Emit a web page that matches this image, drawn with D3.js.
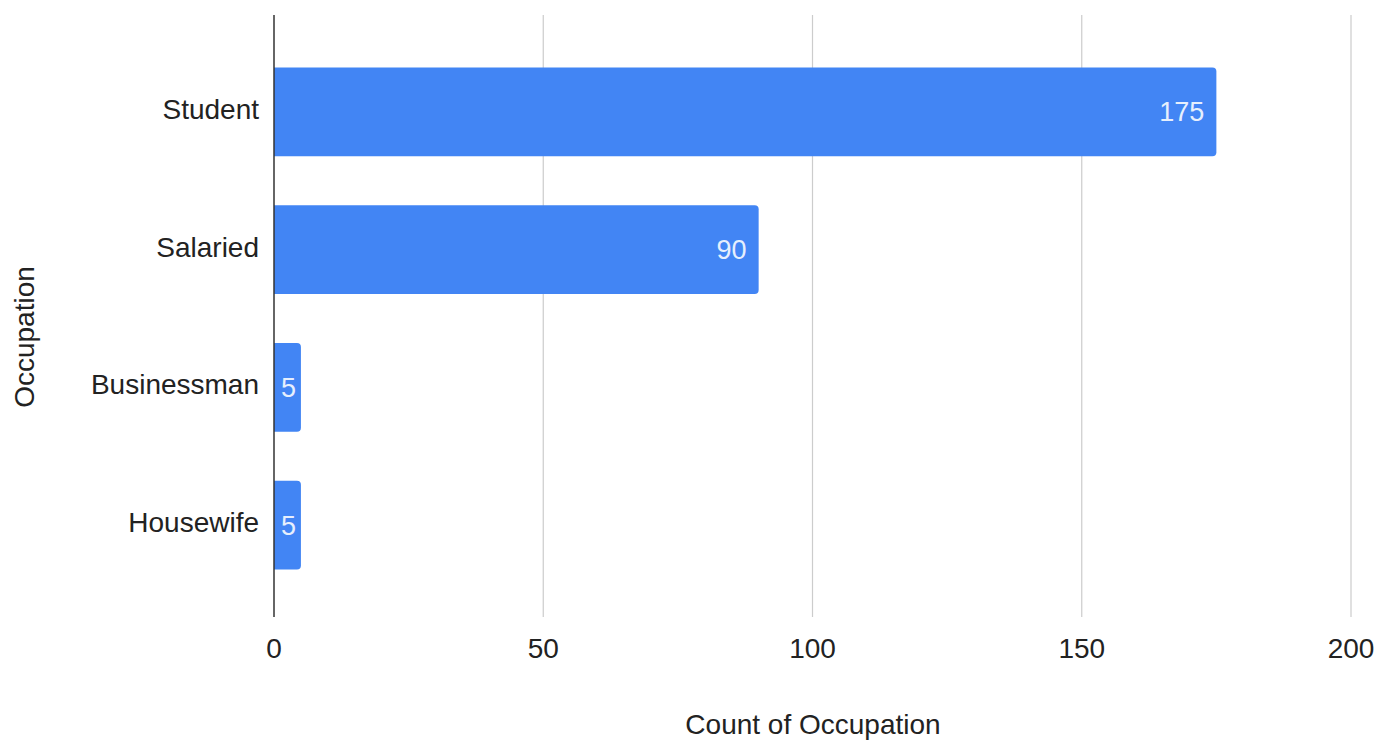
<!DOCTYPE html>
<html><head><meta charset="utf-8">
<script src="https://cdn.jsdelivr.net/npm/d3@7"></script>
<style>body{margin:0;background:#fff}svg{display:block}text{font-family:Arial,"Liberation Sans",sans-serif}</style>
</head><body>
<script>
const categories = ["Student", "Salaried", "Businessman", "Housewife"];
const counts = [175, 90, 5, 5];
const xTicks = [0, 50, 100, 150, 200];

const W = 1391, H = 740;
const svg = d3.select("body").append("svg").attr("width", W).attr("height", H);
const plotTop = 15, plotBottom = 617;
const x = d3.scaleLinear().domain([0, 200]).range([274, 1351]);
const y = d3.scaleBand().domain(categories).range([43, 594]).paddingInner(0.354).paddingOuter(0.177);

// gridlines
svg.append("g").selectAll("line").data(xTicks.filter(d => d > 0)).join("line")
  .attr("x1", d => x(d)).attr("x2", d => x(d))
  .attr("y1", plotTop).attr("y2", plotBottom)
  .attr("stroke", "#cccccc").attr("stroke-width", 1.2);

// bars with rounded right corners
const r = 4;
svg.append("g").selectAll("path").data(categories).join("path")
  .attr("d", (c, i) => {
    const x0 = x(0), x1 = x(counts[i]), y0 = y(c), h = y.bandwidth();
    return `M${x0},${y0}H${x1 - r}Q${x1},${y0} ${x1},${y0 + r}V${y0 + h - r}Q${x1},${y0 + h} ${x1 - r},${y0 + h}H${x0}Z`;
  })
  .attr("fill", "#4285f4");

// value labels
svg.append("g").selectAll("text").data(categories).join("text")
  .attr("x", (c, i) => { const w = x(counts[i]) - x(0); return w > 40 ? x(counts[i]) - 12 : (x(0) + x(counts[i])) / 2 + 1; })
  .attr("y", c => y(c) + y.bandwidth() / 2 + 9.5)
  .attr("text-anchor", (c, i) => (x(counts[i]) - x(0) > 40 ? "end" : "middle"))
  .attr("font-size", 27).attr("fill", "#e6effd")
  .text((c, i) => counts[i]);

// axis line
svg.append("line").attr("x1", x(0)).attr("x2", x(0)).attr("y1", plotTop).attr("y2", plotBottom)
  .attr("stroke", "#333").attr("stroke-width", 1.5);

// x tick labels
svg.append("g").selectAll("text").data(xTicks).join("text")
  .attr("x", d => x(d)).attr("y", 658)
  .attr("text-anchor", "middle").attr("font-size", 28).attr("fill", "#222")
  .text(d => d);

// category labels
svg.append("g").selectAll("text").data(categories).join("text")
  .attr("x", 259).attr("y", c => y(c) + y.bandwidth() / 2 + 7)
  .attr("text-anchor", "end").attr("font-size", 28).attr("fill", "#222")
  .text(c => c);

// axis titles
svg.append("text").attr("x", 813).attr("y", 734)
  .attr("text-anchor", "middle").attr("font-size", 28).attr("fill", "#222")
  .text("Count of Occupation");
svg.append("text").attr("transform", "translate(34,337) rotate(-90)")
  .attr("text-anchor", "middle").attr("font-size", 28).attr("fill", "#222")
  .text("Occupation");
</script>
</body></html>
